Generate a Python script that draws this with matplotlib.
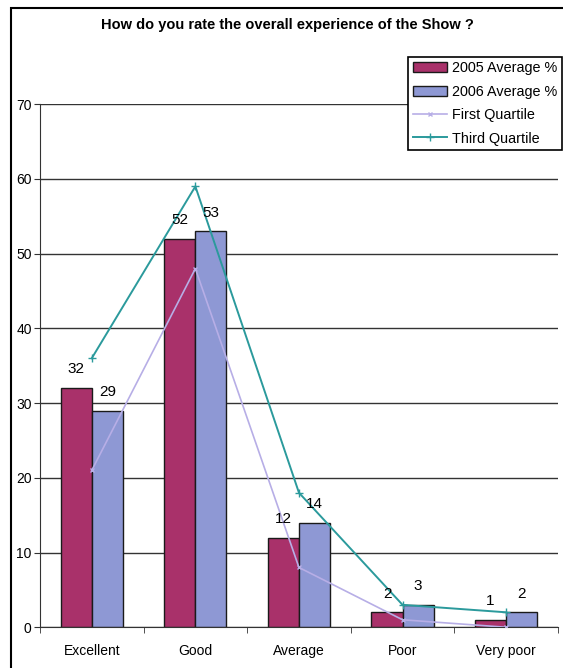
import numpy as np
import matplotlib.pyplot as plt
from matplotlib.patches import Rectangle

categories = ['Excellent', 'Good', 'Average', 'Poor', 'Very poor']
avg_2005 = [32, 52, 12, 2, 1]
avg_2006 = [29, 53, 14, 3, 2]
first_quartile = [21, 48, 8, 1, 0]
third_quartile = [36, 59, 18, 3, 2]

plt.rcParams['font.family'] = ['Liberation Sans', 'DejaVu Sans']

fig = plt.figure(figsize=(5.63, 6.68), dpi=100)
ax = fig.add_axes([0.071, 0.061, 0.92, 0.783])

x = np.arange(len(categories))
w = 0.3
b1 = ax.bar(x - w/2, avg_2005, w, color='#a9316a', edgecolor='#1a1a1a', linewidth=1,
            label='2005 Average %', zorder=2)
b2 = ax.bar(x + w/2, avg_2006, w, color='#8e98d4', edgecolor='#1a1a1a', linewidth=1,
            label='2006 Average %', zorder=2)
l1, = ax.plot(x, first_quartile, color='#b7aee6', marker='x', markersize=3, linewidth=1.2,
              label='First Quartile', zorder=3)
l2, = ax.plot(x, third_quartile, color='#2b9a9c', marker='+', markersize=6, linewidth=1.4,
              label='Third Quartile', zorder=3)

for rect, v in zip(list(b1) + list(b2), avg_2005 + avg_2006):
    ax.text(rect.get_x() + rect.get_width()/2, v + 2.5, str(v), ha='center', va='center',
            fontsize=11, zorder=4)

ax.set_xlim(-0.5, len(categories) - 0.5)
ax.set_ylim(0, 70)
ax.set_yticks(range(0, 71, 10))
ax.yaxis.grid(True, color='#333333', linewidth=1)
ax.set_axisbelow(True)
ax.set_xticks(x)
ax.set_xticklabels(categories, fontsize=10)
ax.set_xticks(np.arange(-0.5, len(categories), 1), minor=True)
ax.tick_params(axis='x', which='major', length=0, pad=12)
ax.tick_params(axis='x', which='minor', length=4, direction='out', color='#333333')
ax.tick_params(axis='y', labelsize=10, length=4, color='#333333', pad=2)
for s in ['top', 'right']:
    ax.spines[s].set_visible(False)
ax.spines['left'].set_color('#333333')
ax.spines['bottom'].set_color('#333333')

leg = ax.legend([b1, b2, l1, l2],
                ['2005 Average %', '2006 Average %', 'First Quartile', 'Third Quartile'],
                loc='upper right', bbox_to_anchor=(562/563, 1 - 57/668),
                bbox_transform=fig.transFigure, borderaxespad=0, fontsize=10.4,
                frameon=True, fancybox=False, edgecolor='black', framealpha=1,
                handlelength=2.35, handletextpad=0.4, borderpad=0.3, labelspacing=0.65)
leg.set_zorder(5)
leg.get_frame().set_linewidth(1.2)

fig.text(0.51, 0.962, 'How do you rate the overall experience of the Show ?',
         ha='center', va='center', fontsize=10.5, fontweight='bold')

fig.patches.append(Rectangle((11/563, -0.01), 1.0, 1 - 8/668 + 0.01, transform=fig.transFigure,
                             fill=False, edgecolor='black', linewidth=1.5))

fig.savefig('out.png', dpi=100)
